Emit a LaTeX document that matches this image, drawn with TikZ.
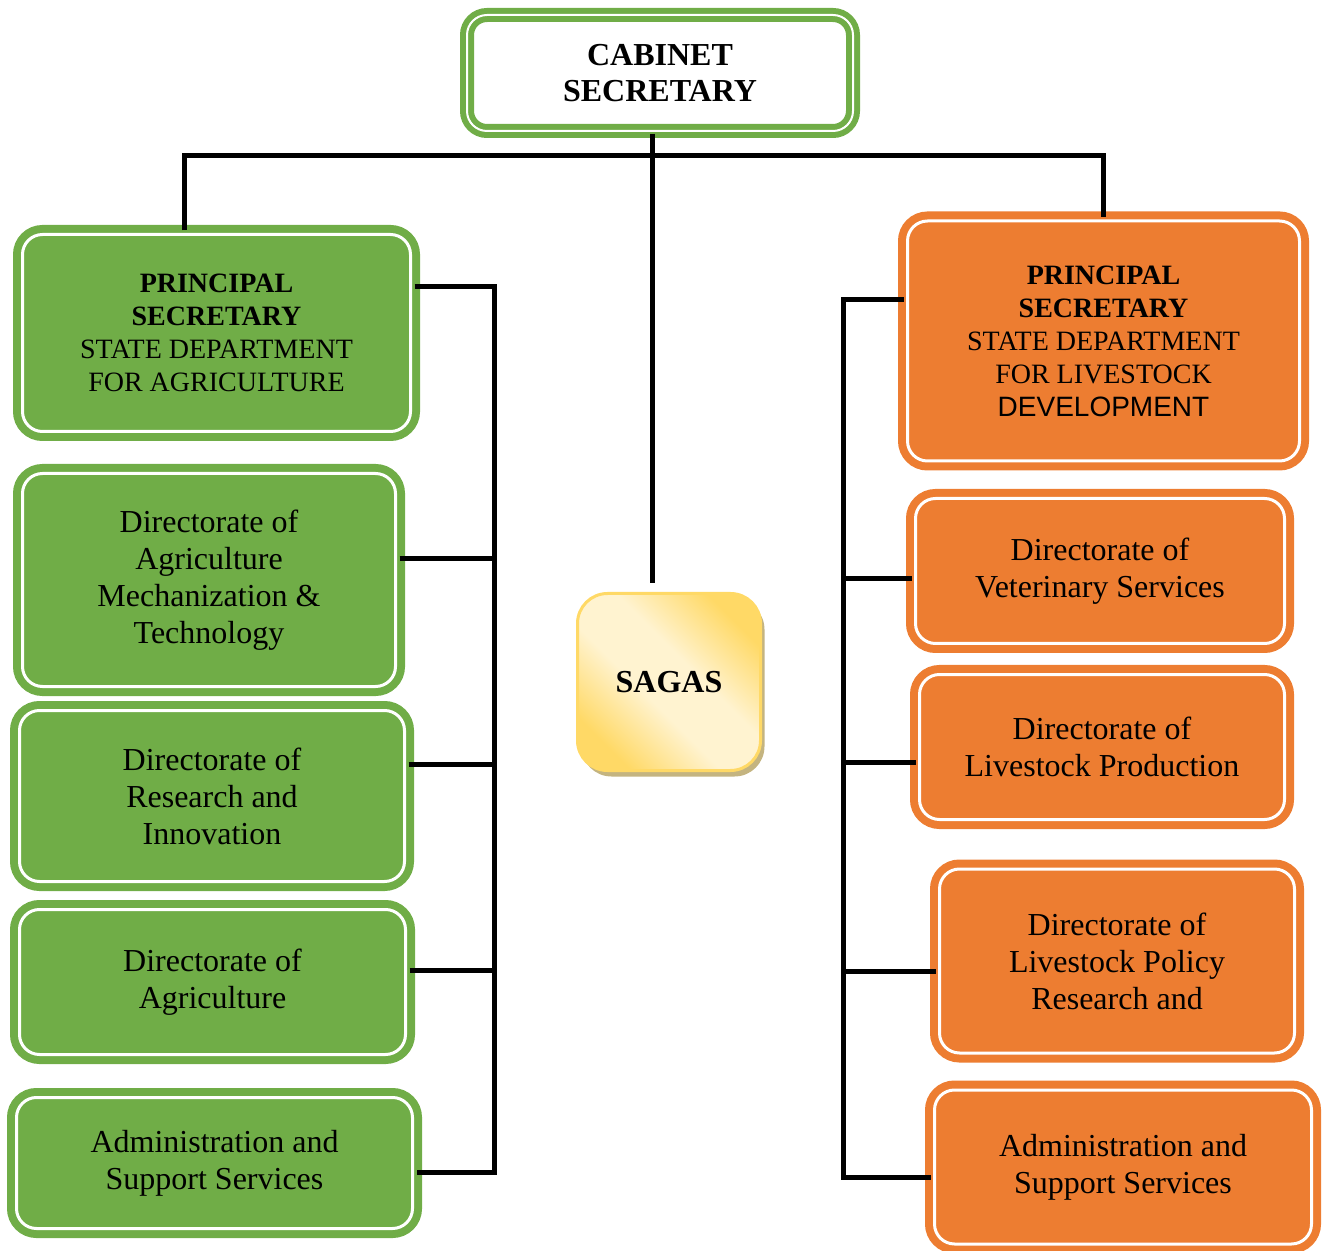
\documentclass[tikz,border=0pt]{standalone}
\usepackage{fontspec}
\setmainfont{Liberation Serif}
\newfontfamily\arialfont{Liberation Sans}
\usetikzlibrary{shadows}

\definecolor{agrigreen}{RGB}{112,173,71}
\definecolor{liveorange}{RGB}{237,125,49}
\definecolor{sagasgold}{RGB}{255,217,102}
\definecolor{sagaslight}{RGB}{255,243,208}
\definecolor{sagasshadow}{RGB}{196,180,128}

\pgfdeclareverticalshading{sagasfade}{100bp}{color(0bp)=(sagasgold); color(25bp)=(sagasgold); color(43bp)=(sagaslight); color(57bp)=(sagaslight); color(75bp)=(sagasgold); color(100bp)=(sagasgold)}

\tikzset{
  unitbox/.style={rounded corners=10pt, inner sep=0pt, align=center,
    line width=4pt, double=white, double distance=1.5pt},
  agribox/.style={unitbox, draw=agrigreen, fill=agrigreen,
    font=\fontsize{16}{18.5}\selectfont},
  livebox/.style={unitbox, draw=liveorange, fill=liveorange,
    font=\fontsize{16}{18.5}\selectfont},
  headfont/.style={font=\fontsize{14}{16.5}\selectfont},
  link/.style={line width=2.5pt}
}

\begin{document}
\begin{tikzpicture}[x=0.5pt,y=-0.5pt]
\useasboundingbox (0,0) rectangle (1329,1251);

% Top:
\node [unitbox, draw=agrigreen, fill=white, line width=3pt, double distance=1pt,
       minimum width=193pt, minimum height=58pt,
       font=\bfseries\fontsize{16}{18}\selectfont] (cabsec) at (660,73)
      {CABINET\\SECRETARY};

\node [rounded corners=15pt, draw=sagasgold, line width=1.5pt,
       shading=sagasfade, shading angle=-45,
       drop shadow={shadow xshift=2pt, shadow yshift=-3pt, fill=sagasshadow, opacity=1},
       minimum width=91.5pt, minimum height=88.5pt,
       font=\bfseries\fontsize{16}{18}\selectfont] (sagas) at (669,682) {SAGAS};

% Agriculture side
\node [agribox, headfont, minimum width=194pt, minimum height=98.5pt] (psagri) at (216.5,333)
      {\textbf{PRINCIPAL}\\\textbf{SECRETARY}\\STATE DEPARTMENT\\FOR AGRICULTURE};
\node [agribox, minimum width=186.5pt, minimum height=106.5pt] (dirmech) at (209,580)
      {Directorate of\\Agriculture\\Mechanization \&\\Technology};
\node [agribox, minimum width=192.5pt, minimum height=85.5pt] (dirres) at (212,796)
      {Directorate of\\Research and\\Innovation};
\node [agribox, minimum width=193pt, minimum height=72.5pt] (diragri) at (212.5,982)
      {Directorate of\\Agriculture};
\node [agribox, minimum width=198pt, minimum height=65.5pt] (adminagri) at (214.5,1163)
      {Administration and\\Support Services};

% Livestock side
\node [livebox, headfont, minimum width=196pt, minimum height=120pt] (pslive) at (1103.5,341)
      {\textbf{PRINCIPAL}\\\textbf{SECRETARY}\\STATE DEPARTMENT\\FOR LIVESTOCK\\{\arialfont DEVELOPMENT}};
\node [livebox, minimum width=184.5pt, minimum height=72.5pt] (dirvet) at (1100,571)
      {Directorate of\\Veterinary Services};
\node [livebox, minimum width=182.5pt, minimum height=72.5pt] (dirprod) at (1102,747)
      {Directorate of\\Livestock Production};
\node [livebox, minimum width=177.5pt, minimum height=92pt] (dirpolicy) at (1117,961)
      {Directorate of\\Livestock Policy\\Research and};
\node [livebox, minimum width=188.5pt, minimum height=77pt] (adminlive) at (1123,1167)
      {Administration and\\Support Services};

% Lines
\coordinate (hub) at (652,156);
\coordinate (barleft) at (184,156);
\coordinate (barright) at (1103,156);
\coordinate (lbustop) at (494,287);
\coordinate (lbusbot) at (494,1172);
\coordinate (rbustop) at (843,300);
\coordinate (rbusbot) at (843,1177);

\begin{scope}[link]
\draw (cabsec.south -| hub) -- (hub);
\draw (hub) -- (hub |- sagas.north) [shorten >=4.5pt];
\draw (barleft |- psagri.north) -- (barleft) -- (barright) -- (barright |- pslive.north);

\draw (psagri.east |- lbustop) -- (lbustop) -- (lbusbot) -- (adminagri.east |- lbusbot);
\draw ([yshift=10.5pt]dirmech.east) -- ([yshift=10.5pt]dirmech.east -| lbustop);
\draw ([yshift=16pt]dirres.east) -- ([yshift=16pt]dirres.east -| lbustop);
\draw ([yshift=6pt]diragri.east) -- ([yshift=6pt]diragri.east -| lbustop);

\draw (pslive.west |- rbustop) -- (rbustop) -- (rbusbot) -- (adminlive.west |- rbusbot);
\draw ([yshift=-4pt]dirvet.west) -- ([yshift=-4pt]dirvet.west -| rbustop);
\draw ([yshift=-7.5pt]dirprod.west) -- ([yshift=-7.5pt]dirprod.west -| rbustop);
\draw ([yshift=-5pt]dirpolicy.west) -- ([yshift=-5pt]dirpolicy.west -| rbustop);
\end{scope}

\end{tikzpicture}
\end{document}
